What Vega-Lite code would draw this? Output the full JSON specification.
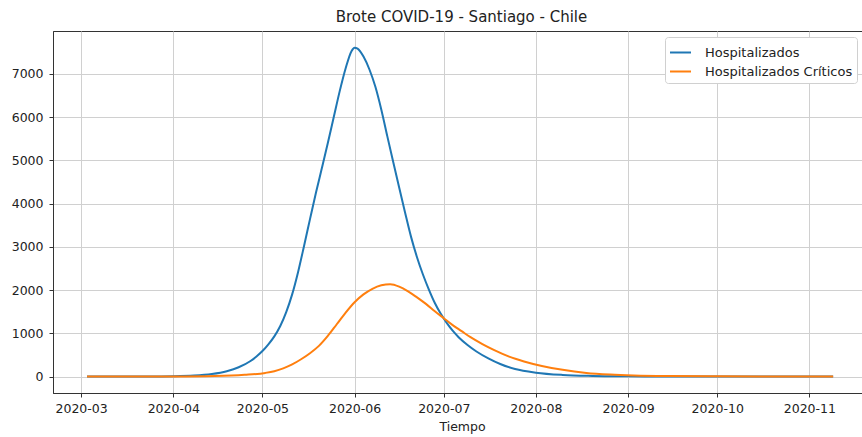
{
  "$schema": "https://vega.github.io/schema/vega-lite/v6.json",
  "width": 809,
  "height": 362,
  "autosize": {"type": "none"},
  "padding": {"left": 53, "top": 31, "right": 0, "bottom": 44},
  "background": "white",
  "config": {
    "font": "DejaVu Sans",
    "view": {"stroke": "#333333", "strokeWidth": 1},
    "axis": {
      "labelFont": "DejaVu Sans", "titleFont": "DejaVu Sans",
      "labelFontSize": 12.5, "titleFontSize": 12.5,
      "labelColor": "#222222", "titleColor": "#222222",
      "titleFontWeight": "normal",
      "tickColor": "#333333", "tickSize": 4, "tickWidth": 1,
      "domainColor": "#333333", "domainWidth": 1,
      "gridColor": "#d0d0d0", "gridWidth": 1
    }
  },
  "title": {"text": "Brote COVID-19 - Santiago - Chile", "font": "DejaVu Sans", "fontSize": 15, "fontWeight": "normal", "color": "#222222", "anchor": "middle", "offset": 6, "dx": 4},
  "data": {"values": [
    {"fecha": "2020-03-03", "serie": "Hospitalizados", "valor": 0},
    {"fecha": "2020-03-15", "serie": "Hospitalizados", "valor": 1},
    {"fecha": "2020-03-25", "serie": "Hospitalizados", "valor": 3},
    {"fecha": "2020-04-01", "serie": "Hospitalizados", "valor": 7},
    {"fecha": "2020-04-08", "serie": "Hospitalizados", "valor": 22},
    {"fecha": "2020-04-14", "serie": "Hospitalizados", "valor": 60},
    {"fecha": "2020-04-19", "serie": "Hospitalizados", "valor": 125},
    {"fecha": "2020-04-23", "serie": "Hospitalizados", "valor": 215},
    {"fecha": "2020-04-27", "serie": "Hospitalizados", "valor": 360},
    {"fecha": "2020-04-29", "serie": "Hospitalizados", "valor": 465},
    {"fecha": "2020-05-01", "serie": "Hospitalizados", "valor": 590},
    {"fecha": "2020-05-03", "serie": "Hospitalizados", "valor": 745},
    {"fecha": "2020-05-05", "serie": "Hospitalizados", "valor": 930},
    {"fecha": "2020-05-07", "serie": "Hospitalizados", "valor": 1170},
    {"fecha": "2020-05-09", "serie": "Hospitalizados", "valor": 1490},
    {"fecha": "2020-05-11", "serie": "Hospitalizados", "valor": 1900},
    {"fecha": "2020-05-13", "serie": "Hospitalizados", "valor": 2420},
    {"fecha": "2020-05-15", "serie": "Hospitalizados", "valor": 3020},
    {"fecha": "2020-05-17", "serie": "Hospitalizados", "valor": 3640},
    {"fecha": "2020-05-19", "serie": "Hospitalizados", "valor": 4250},
    {"fecha": "2020-05-21", "serie": "Hospitalizados", "valor": 4820},
    {"fecha": "2020-05-23", "serie": "Hospitalizados", "valor": 5400},
    {"fecha": "2020-05-25", "serie": "Hospitalizados", "valor": 6000},
    {"fecha": "2020-05-27", "serie": "Hospitalizados", "valor": 6600},
    {"fecha": "2020-05-29", "serie": "Hospitalizados", "valor": 7130},
    {"fecha": "2020-05-31", "serie": "Hospitalizados", "valor": 7530},
    {"fecha": "2020-06-01", "serie": "Hospitalizados", "valor": 7605},
    {"fecha": "2020-06-02", "serie": "Hospitalizados", "valor": 7585},
    {"fecha": "2020-06-04", "serie": "Hospitalizados", "valor": 7400},
    {"fecha": "2020-06-06", "serie": "Hospitalizados", "valor": 7100},
    {"fecha": "2020-06-08", "serie": "Hospitalizados", "valor": 6700},
    {"fecha": "2020-06-10", "serie": "Hospitalizados", "valor": 6170},
    {"fecha": "2020-06-12", "serie": "Hospitalizados", "valor": 5560},
    {"fecha": "2020-06-14", "serie": "Hospitalizados", "valor": 4960},
    {"fecha": "2020-06-16", "serie": "Hospitalizados", "valor": 4370},
    {"fecha": "2020-06-18", "serie": "Hospitalizados", "valor": 3790},
    {"fecha": "2020-06-20", "serie": "Hospitalizados", "valor": 3230},
    {"fecha": "2020-06-22", "serie": "Hospitalizados", "valor": 2760},
    {"fecha": "2020-06-24", "serie": "Hospitalizados", "valor": 2360},
    {"fecha": "2020-06-26", "serie": "Hospitalizados", "valor": 2010},
    {"fecha": "2020-06-28", "serie": "Hospitalizados", "valor": 1700},
    {"fecha": "2020-06-30", "serie": "Hospitalizados", "valor": 1450},
    {"fecha": "2020-07-02", "serie": "Hospitalizados", "valor": 1240},
    {"fecha": "2020-07-04", "serie": "Hospitalizados", "valor": 1060},
    {"fecha": "2020-07-06", "serie": "Hospitalizados", "valor": 910},
    {"fecha": "2020-07-09", "serie": "Hospitalizados", "valor": 730},
    {"fecha": "2020-07-12", "serie": "Hospitalizados", "valor": 580},
    {"fecha": "2020-07-16", "serie": "Hospitalizados", "valor": 420},
    {"fecha": "2020-07-20", "serie": "Hospitalizados", "valor": 290},
    {"fecha": "2020-07-25", "serie": "Hospitalizados", "valor": 175},
    {"fecha": "2020-08-01", "serie": "Hospitalizados", "valor": 90},
    {"fecha": "2020-08-10", "serie": "Hospitalizados", "valor": 38},
    {"fecha": "2020-08-20", "serie": "Hospitalizados", "valor": 15},
    {"fecha": "2020-09-01", "serie": "Hospitalizados", "valor": 5},
    {"fecha": "2020-09-15", "serie": "Hospitalizados", "valor": 1},
    {"fecha": "2020-10-01", "serie": "Hospitalizados", "valor": 0},
    {"fecha": "2020-11-09", "serie": "Hospitalizados", "valor": 0},
    {"fecha": "2020-03-03", "serie": "Hospitalizados Críticos", "valor": 0},
    {"fecha": "2020-04-01", "serie": "Hospitalizados Críticos", "valor": 2},
    {"fecha": "2020-04-15", "serie": "Hospitalizados Críticos", "valor": 12},
    {"fecha": "2020-04-25", "serie": "Hospitalizados Críticos", "valor": 40},
    {"fecha": "2020-05-02", "serie": "Hospitalizados Críticos", "valor": 85},
    {"fecha": "2020-05-05", "serie": "Hospitalizados Críticos", "valor": 125},
    {"fecha": "2020-05-08", "serie": "Hospitalizados Críticos", "valor": 190},
    {"fecha": "2020-05-11", "serie": "Hospitalizados Críticos", "valor": 280},
    {"fecha": "2020-05-14", "serie": "Hospitalizados Críticos", "valor": 400},
    {"fecha": "2020-05-17", "serie": "Hospitalizados Críticos", "valor": 540},
    {"fecha": "2020-05-20", "serie": "Hospitalizados Críticos", "valor": 710},
    {"fecha": "2020-05-23", "serie": "Hospitalizados Críticos", "valor": 940},
    {"fecha": "2020-05-26", "serie": "Hospitalizados Críticos", "valor": 1210},
    {"fecha": "2020-05-29", "serie": "Hospitalizados Críticos", "valor": 1480},
    {"fecha": "2020-06-01", "serie": "Hospitalizados Críticos", "valor": 1720},
    {"fecha": "2020-06-04", "serie": "Hospitalizados Críticos", "valor": 1900},
    {"fecha": "2020-06-07", "serie": "Hospitalizados Críticos", "valor": 2030},
    {"fecha": "2020-06-10", "serie": "Hospitalizados Críticos", "valor": 2110},
    {"fecha": "2020-06-13", "serie": "Hospitalizados Críticos", "valor": 2135},
    {"fecha": "2020-06-16", "serie": "Hospitalizados Críticos", "valor": 2080},
    {"fecha": "2020-06-19", "serie": "Hospitalizados Críticos", "valor": 1970},
    {"fecha": "2020-06-22", "serie": "Hospitalizados Críticos", "valor": 1830},
    {"fecha": "2020-06-25", "serie": "Hospitalizados Críticos", "valor": 1680},
    {"fecha": "2020-06-28", "serie": "Hospitalizados Críticos", "valor": 1510},
    {"fecha": "2020-07-01", "serie": "Hospitalizados Críticos", "valor": 1350},
    {"fecha": "2020-07-04", "serie": "Hospitalizados Críticos", "valor": 1190},
    {"fecha": "2020-07-07", "serie": "Hospitalizados Críticos", "valor": 1050},
    {"fecha": "2020-07-10", "serie": "Hospitalizados Críticos", "valor": 910},
    {"fecha": "2020-07-14", "serie": "Hospitalizados Críticos", "valor": 750},
    {"fecha": "2020-07-18", "serie": "Hospitalizados Críticos", "valor": 610},
    {"fecha": "2020-07-23", "serie": "Hospitalizados Críticos", "valor": 460},
    {"fecha": "2020-07-28", "serie": "Hospitalizados Críticos", "valor": 350},
    {"fecha": "2020-08-03", "serie": "Hospitalizados Críticos", "valor": 245},
    {"fecha": "2020-08-10", "serie": "Hospitalizados Críticos", "valor": 155},
    {"fecha": "2020-08-18", "serie": "Hospitalizados Críticos", "valor": 85},
    {"fecha": "2020-08-26", "serie": "Hospitalizados Críticos", "valor": 48},
    {"fecha": "2020-09-03", "serie": "Hospitalizados Críticos", "valor": 27},
    {"fecha": "2020-09-15", "serie": "Hospitalizados Críticos", "valor": 12},
    {"fecha": "2020-10-01", "serie": "Hospitalizados Críticos", "valor": 5},
    {"fecha": "2020-10-15", "serie": "Hospitalizados Críticos", "valor": 2},
    {"fecha": "2020-11-09", "serie": "Hospitalizados Críticos", "valor": 0}
  ]},
  "mark": {"type": "line", "interpolate": "monotone", "strokeWidth": 2, "clip": true},
  "encoding": {
    "x": {
      "field": "fecha", "type": "temporal",
      "scale": {"type": "utc", "domain": [{"year": 2020, "month": 2, "date": 20, "hours": 13, "utc": true}, {"year": 2020, "month": 11, "date": 18, "hours": 17, "utc": true}], "nice": false},
      "axis": {
        "title": "Tiempo", "format": "%Y-%m", "grid": true, "labelPadding": 5,
        "values": [
          {"year": 2020, "month": 3, "date": 1, "utc": true},
          {"year": 2020, "month": 4, "date": 1, "utc": true},
          {"year": 2020, "month": 5, "date": 1, "utc": true},
          {"year": 2020, "month": 6, "date": 1, "utc": true},
          {"year": 2020, "month": 7, "date": 1, "utc": true},
          {"year": 2020, "month": 8, "date": 1, "utc": true},
          {"year": 2020, "month": 9, "date": 1, "utc": true},
          {"year": 2020, "month": 10, "date": 1, "utc": true},
          {"year": 2020, "month": 11, "date": 1, "utc": true}
        ],
        "titleX": 409, "titleY": 37, "titleBaseline": "alphabetic", "titleAlign": "center"
      }
    },
    "y": {
      "field": "valor", "type": "quantitative",
      "scale": {"domain": [-380, 7990], "nice": false, "zero": false},
      "axis": {"title": null, "format": "d", "values": [0, 1000, 2000, 3000, 4000, 5000, 6000, 7000], "grid": true, "labelPadding": 6}
    },
    "color": {
      "field": "serie", "type": "nominal",
      "scale": {"domain": ["Hospitalizados", "Hospitalizados Críticos"], "range": ["#1f77b4", "#ff7f0e"]},
      "legend": {
        "title": null, "orient": "none", "legendX": 612, "legendY": 6,
        "symbolType": "stroke", "symbolSize": 440, "symbolStrokeWidth": 2,
        "labelFont": "DejaVu Sans", "labelFontSize": 13, "labelColor": "#222222",
        "labelOffset": 13, "rowPadding": 0, "padding": 4,
        "fillColor": "white", "strokeColor": "#d0d0d0", "cornerRadius": 3
      }
    }
  }
}
